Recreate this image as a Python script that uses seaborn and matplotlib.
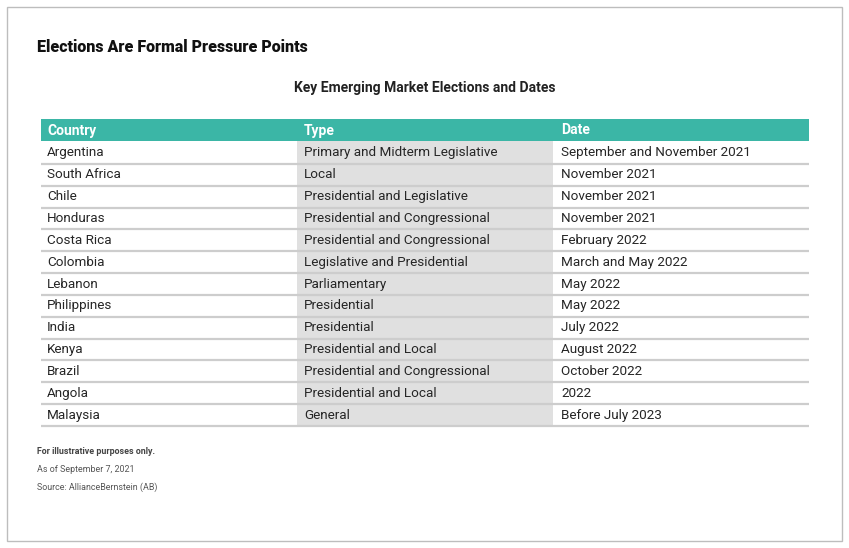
import matplotlib
matplotlib.use("Agg")
import matplotlib.pyplot as plt
import seaborn as sns
from matplotlib.patches import Rectangle

countries = ["Argentina", "South Africa", "Chile", "Honduras", "Costa Rica", "Colombia",
             "Lebanon", "Philippines", "India", "Kenya", "Brazil", "Angola", "Malaysia"]
types = ["Primary and Midterm Legislative", "Local", "Presidential and Legislative",
         "Presidential and Congressional", "Presidential and Congressional",
         "Legislative and Presidential", "Parliamentary", "Presidential", "Presidential",
         "Presidential and Local", "Presidential and Congressional", "Presidential and Local",
         "General"]
dates = ["September and November 2021", "November 2021", "November 2021", "November 2021",
         "February 2022", "March and May 2022", "May 2022", "May 2022", "July 2022",
         "August 2022", "October 2022", "2022", "Before July 2023"]
headers = ["Country", "Type", "Date"]

sns.set_theme(style="white")
plt.rcParams["font.family"] = ["Roboto", "DejaVu Sans"]

fig = plt.figure(figsize=(8.49, 5.48), dpi=100)
ax = fig.add_axes([0, 0, 1, 1])
ax.set_xlim(0, 849)
ax.set_ylim(548, 0)
ax.axis("off")

teal = "#3bb6a6"
grey = "#e0e0e0"
line_c = "#cdcdcd"
txt_c = "#262626"

# outer frame
ax.add_patch(Rectangle((7, 7), 835, 534, fill=False, ec="#bdbdbd", lw=1))

ax.text(37, 47, "Elections Are Formal Pressure Points", fontsize=11.5, fontweight="black",
        color="#111111", va="center", ha="left")
ax.text(425, 88, "Key Emerging Market Elections and Dates", fontsize=10, fontweight="bold",
        color="#222222", va="center", ha="center")

col_x = [41, 297, 553, 809]
pad = [6, 7, 8]
top, head_h = 119, 22
row_h = [23] + [21.83] * (len(countries) - 1)

# header
ax.add_patch(Rectangle((col_x[0], top), col_x[-1] - col_x[0], head_h, color=teal, lw=0))
for i, h in enumerate(headers):
    ax.text(col_x[i] + pad[i], top + head_h / 2 + 0.5, h, color="white", fontsize=10,
            fontweight="bold", va="center", ha="left")

y0 = top + head_h
total = sum(row_h)
ax.add_patch(Rectangle((col_x[1], y0), col_x[2] - col_x[1], total, color=grey, lw=0))

y = y0
for c, t, d, h in zip(countries, types, dates, row_h):
    cy = y + h / 2
    for i, val in enumerate([c, t, d]):
        ax.text(col_x[i] + pad[i], cy, val, color=txt_c, fontsize=9.7, va="center", ha="left")
    y += h
    ax.plot([col_x[0], col_x[-1]], [y, y], color=line_c, lw=1.6, solid_capstyle="butt")

ax.text(37, 452, "For illustrative purposes only.", fontsize=6.4, fontweight="bold",
        color="#444444", va="center", ha="left")
ax.text(37, 469, "As of September 7, 2021", fontsize=6.4, color="#555555", va="center", ha="left")
ax.text(37, 487, "Source: AllianceBernstein (AB)", fontsize=6.4, color="#555555", va="center", ha="left")

fig.savefig("out.png", dpi=100, facecolor="white")
